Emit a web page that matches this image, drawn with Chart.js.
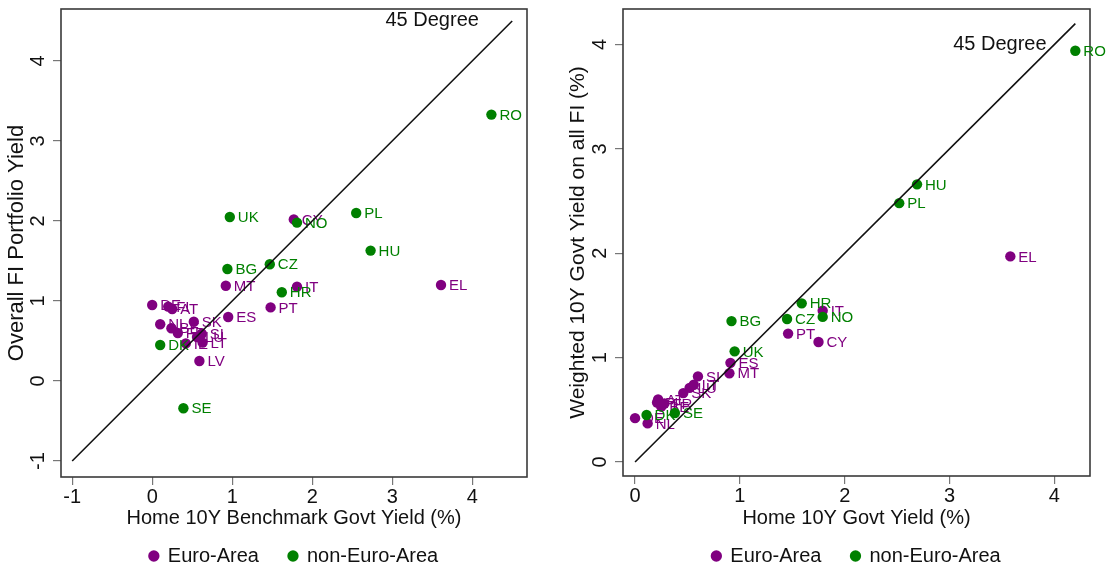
<!DOCTYPE html>
<html lang="en">
<head>
<meta charset="UTF-8">
<title>FI portfolio yields vs home govt yields</title>
<script src="https://cdn.jsdelivr.net/npm/chart.js@4"></script>
<style>
  html, body { margin: 0; padding: 0; background: #fff; overflow: hidden; }
  .row { display: flex; width: 1110px; height: 570px; }
  canvas { display: block; }
</style>
</head>
<body>
<div class="row">
  <canvas id="left" width="555" height="576"></canvas>
  <canvas id="right" width="555" height="576"></canvas>
</div>
<script>
// left panel: overall FI portfolio yield vs home benchmark yield
const leftEuroCodes = ['DE', 'FI', 'AT', 'NL', 'BE', 'FR', 'SK', 'SI', 'LU', 'IE', 'LT', 'LV', 'ES', 'MT', 'PT', 'IT', 'CY', 'EL'];
const leftEuroX = [0.00, 0.20, 0.25, 0.10, 0.24, 0.32, 0.52, 0.62, 0.56, 0.42, 0.63, 0.59, 0.95, 0.92, 1.48, 1.81, 1.77, 3.61];
const leftEuroY = [0.95, 0.93, 0.90, 0.71, 0.66, 0.60, 0.74, 0.59, 0.55, 0.47, 0.48, 0.25, 0.80, 1.19, 0.92, 1.18, 2.02, 1.20];

const leftOtherCodes = ['RO', 'PL', 'HU', 'UK', 'NO', 'CZ', 'BG', 'HR', 'DK', 'SE'];
const leftOtherX = [4.24, 2.55, 2.73, 0.97, 1.81, 1.47, 0.94, 1.62, 0.10, 0.39];
const leftOtherY = [3.33, 2.10, 1.63, 2.05, 1.98, 1.46, 1.40, 1.11, 0.45, -0.34];

// right panel: weighted 10Y govt yield on all FI vs home 10Y govt yield
const rightEuroCodes = ['DE', 'NL', 'FI', 'AT', 'BE', 'FR', 'SK', 'LU', 'LT', 'SI', 'MT', 'ES', 'PT', 'CY', 'IT', 'EL'];
const rightEuroX = [0.00, 0.12, 0.21, 0.22, 0.25, 0.28, 0.46, 0.52, 0.56, 0.60, 0.90, 0.91, 1.46, 1.75, 1.79, 3.58];
const rightEuroY = [0.42, 0.37, 0.57, 0.60, 0.53, 0.56, 0.66, 0.71, 0.74, 0.82, 0.85, 0.95, 1.23, 1.15, 1.45, 1.97];

const rightOtherCodes = ['RO', 'HU', 'PL', 'HR', 'NO', 'CZ', 'BG', 'UK', 'DK', 'SE'];
const rightOtherX = [4.20, 2.69, 2.52, 1.59, 1.79, 1.45, 0.92, 0.95, 0.11, 0.38];
const rightOtherY = [3.94, 2.66, 2.48, 1.52, 1.39, 1.37, 1.35, 1.06, 0.45, 0.47];

const seriesNames = ['Euro-Area', 'non-Euro-Area'];
const leftDiagonal = [-1, 4.5];
const rightDiagonal = [0, 4.2];

const PURPLE = '#800080';
const GREEN = '#008000';
const FONT = '"Liberation Sans", Arial, sans-serif';

Chart.defaults.font.family = FONT;
Chart.defaults.color = '#111';

function toPoints(xs, ys) {
  return xs.map((x, i) => ({ x: x, y: ys[i] }));
}

// country codes next to the markers
const pointLabels = {
  id: 'pointLabels',
  afterDatasetDraw(chart, args) {
    const ds = chart.data.datasets[args.index];
    if (!ds.codes) return;
    const ctx = chart.ctx;
    ctx.save();
    ctx.font = '15px ' + FONT;
    ctx.fillStyle = ds.backgroundColor;
    ctx.textBaseline = 'middle';
    args.meta.data.forEach((pt, i) => ctx.fillText(ds.codes[i], pt.x + 8, pt.y + 1));
    ctx.restore();
  }
};

// box round the plot + the "45 Degree" note
const frame = {
  id: 'frame',
  beforeDatasetsDraw(chart) {
    const a = chart.chartArea, ctx = chart.ctx;
    ctx.save();
    ctx.strokeStyle = '#3a3a3a';
    ctx.lineWidth = 1.6;
    ctx.strokeRect(a.left, a.top, a.right - a.left, a.bottom - a.top);
    ctx.restore();
  },
  afterDraw(chart, args, opts) {
    if (!opts.note) return;
    const ctx = chart.ctx;
    const x = chart.scales.x.getPixelForValue(opts.note.x);
    const y = chart.scales.y.getPixelForValue(opts.note.y);
    ctx.save();
    ctx.font = '20px ' + FONT;
    ctx.fillStyle = '#111';
    ctx.textAlign = 'center';
    ctx.textBaseline = 'middle';
    ctx.fillText(opts.note.text, x, y);
    ctx.restore();
  }
};

function makeChart(id, p) {
  const ctx = document.getElementById(id).getContext('2d');
  return new Chart(ctx, {
    data: {
      datasets: [
        {
          type: 'scatter', label: seriesNames[0], codes: p.euroCodes,
          data: toPoints(p.euroX, p.euroY),
          backgroundColor: PURPLE, borderColor: PURPLE, borderWidth: 0,
          pointRadius: 5.2, order: 2
        },
        {
          type: 'scatter', label: seriesNames[1], codes: p.otherCodes,
          data: toPoints(p.otherX, p.otherY),
          backgroundColor: GREEN, borderColor: GREEN, borderWidth: 0,
          pointRadius: 5.2, order: 1
        },
        {
          type: 'line', label: '45 Degree',
          data: toPoints(p.diagonal, p.diagonal),
          borderColor: '#111', borderWidth: 1.6, pointRadius: 0, order: 0
        }
      ]
    },
    options: {
      responsive: false,
      animation: false,
      events: [],
      layout: { padding: { top: 9, right: p.padRight, left: 0, bottom: 0 } },
      scales: {
        x: {
          type: 'linear', min: p.xMin, max: p.xMax,
          border: { display: false },
          grid: { drawOnChartArea: false, drawTicks: true, tickLength: 8, color: '#777', lineWidth: 1.2 },
          ticks: { stepSize: 1, includeBounds: false, autoSkip: false, maxRotation: 0, padding: 0, font: { size: 20 }, color: '#111' },
          title: { display: true, text: p.xTitle, font: { size: 20 }, color: '#111', padding: { top: 0, bottom: -14 } },
          afterFit(s) { s.height = p.xHeight; s.paddingLeft = 0; s.paddingRight = 0; }
        },
        y: {
          type: 'linear', min: p.yMin, max: p.yMax,
          border: { display: false },
          grid: { drawOnChartArea: false, drawTicks: true, tickLength: 8, color: '#777', lineWidth: 1.2 },
          ticks: { stepSize: 1, includeBounds: false, autoSkip: false, minRotation: 90, maxRotation: 90, crossAlign: 'center', padding: p.yTickPad, font: { size: 20 }, color: '#111' },
          title: { display: true, text: p.yTitle, font: { size: p.yTitleSize }, color: '#111', padding: { top: p.yTitlePad, bottom: 0 } },
          afterFit(s) { s.width = p.yWidth; s.paddingTop = 0; s.paddingBottom = 0; }
        }
      },
      plugins: {
        legend: {
          position: 'bottom',
          fullSize: false,
          labels: {
            usePointStyle: true, pointStyle: 'circle', boxWidth: 8, boxHeight: 8,
            padding: 30, font: { size: 20 }, color: '#111',
            filter: (item) => item.datasetIndex < 2,
            sort: (a, b) => a.datasetIndex - b.datasetIndex
          }
        },
        tooltip: { enabled: false },
        frame: { note: p.note }
      }
    },
    plugins: [pointLabels, frame]
  });
}

makeChart('left', {
  euroCodes: leftEuroCodes, euroX: leftEuroX, euroY: leftEuroY,
  otherCodes: leftOtherCodes, otherX: leftOtherX, otherY: leftOtherY,
  diagonal: leftDiagonal,
  xMin: -1.14, xMax: 4.685, yMin: -1.2, yMax: 4.65,
  xTitle: 'Home 10Y Benchmark Govt Yield (%)',
  yTitle: 'Overall FI Portfolio Yield',
  padRight: 28, yWidth: 61, xHeight: 39, yTickPad: 6, yTitlePad: 4, yTitleSize: 22,
  note: { text: '45 Degree', x: 3.5, y: 4.51 }
});

makeChart('right', {
  euroCodes: rightEuroCodes, euroX: rightEuroX, euroY: rightEuroY,
  otherCodes: rightOtherCodes, otherX: rightOtherX, otherY: rightOtherY,
  diagonal: rightDiagonal,
  xMin: -0.115, xMax: 4.34, yMin: -0.134, yMax: 4.34,
  xTitle: 'Home 10Y Govt Yield (%)',
  yTitle: 'Weighted 10Y Govt Yield on all FI (%)',
  padRight: 20, yWidth: 68, xHeight: 40, yTickPad: 9, yTitlePad: 11, yTitleSize: 21,
  note: { text: '45 Degree', x: 3.48, y: 4.0 }
});
</script>
</body>
</html>
